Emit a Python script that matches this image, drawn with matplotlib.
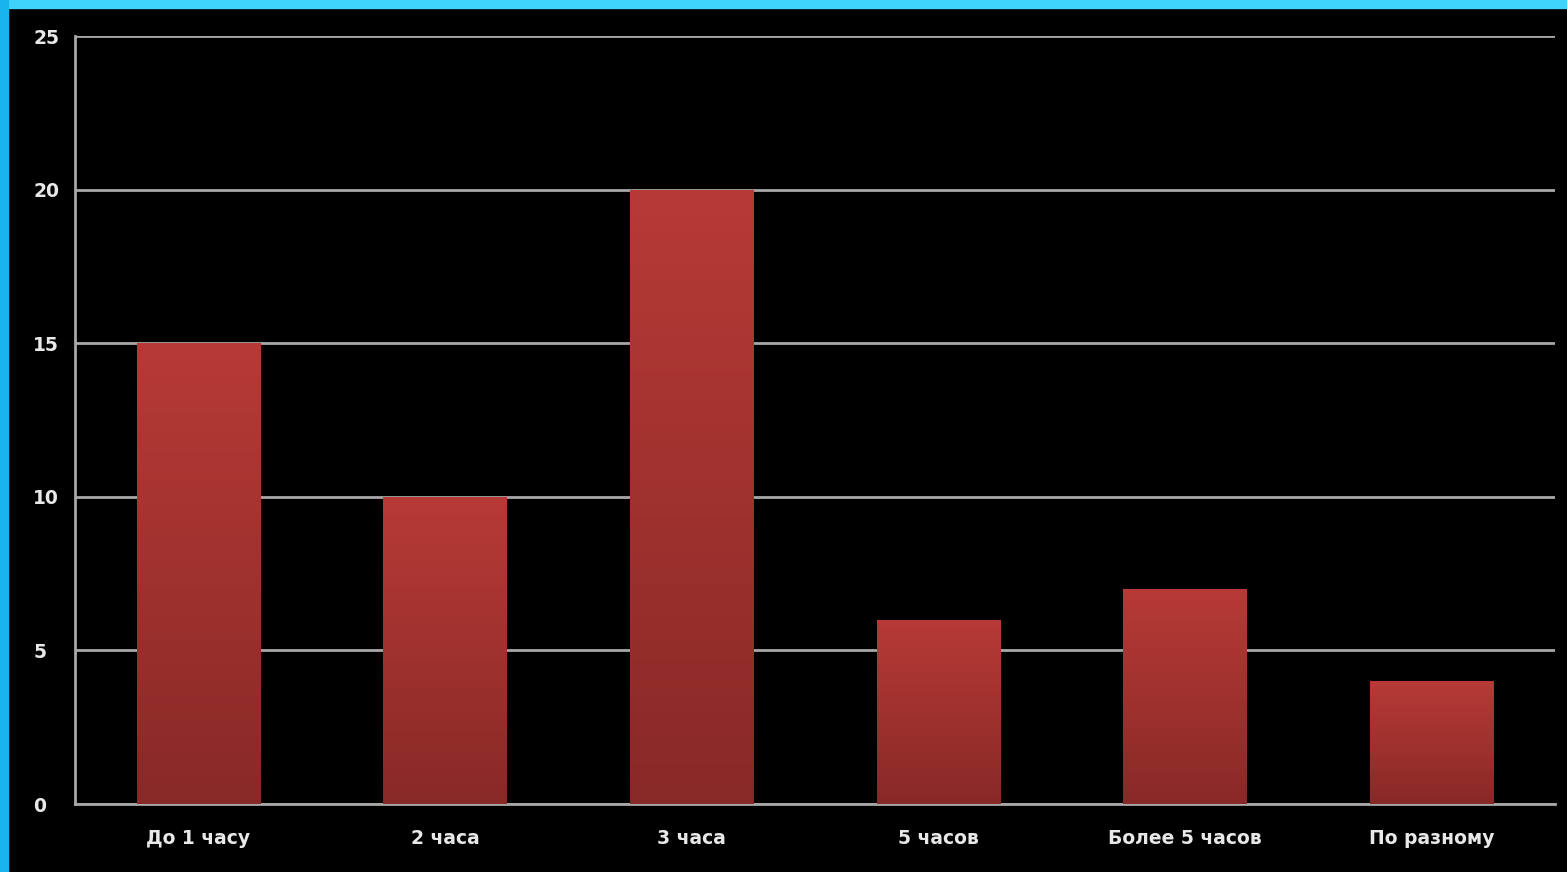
import numpy as np
import matplotlib.pyplot as plt
from matplotlib.patches import Rectangle
from matplotlib.colors import LinearSegmentedColormap

categories = ['До 1 часу', '2 часа', '3 часа', '5 часов', 'Более 5 часов', 'По разному']
values = [15, 10, 20, 6, 7, 4]
yticks = [0, 5, 10, 15, 20, 25]

W, H = 1567, 872
fig = plt.figure(figsize=(W / 100, H / 100), dpi=100)
fig.patch.set_facecolor('black')

# cyan frame on top and left
fig.add_artist(Rectangle((0, 1 - 8 / H), 1, 8 / H, transform=fig.transFigure,
                         color='#3fd2fb', zorder=0))
fig.add_artist(Rectangle((0, 0), 8 / W, 1, transform=fig.transFigure,
                         color='#18b4ee', zorder=0))

ax = fig.add_axes([75 / W, 68 / H, 1480 / W, (804 - 36) / H])
ax.set_facecolor('black')

x = np.arange(len(categories))
bars = ax.bar(x, values, width=0.5, color='none', edgecolor='none', zorder=3)

# vertical red gradient in each bar
grad_cmap = LinearSegmentedColormap.from_list('redgrad', ['#882927', '#b73a36'])
grad = np.linspace(0, 1, 256).reshape(-1, 1)
for b in bars:
    x0, w, h = b.get_x(), b.get_width(), b.get_height()
    im = ax.imshow(grad, cmap=grad_cmap, origin='lower', aspect='auto',
                   extent=[x0, x0 + w, 0, h], zorder=3)
    im.set_clip_path(b)

ax.set_xlim(-0.5, len(categories) - 0.5)
ax.set_ylim(0, 25)
ax.set_yticks(yticks)
ax.set_xticks(x)
ax.set_xticklabels(categories)

ax.grid(axis='y', color='#a8a8a8', linewidth=2, zorder=1)
ax.set_axisbelow(True)
for s in ['top', 'right']:
    ax.spines[s].set_visible(False)
for s in ['left', 'bottom']:
    ax.spines[s].set_color('#a8a8a8')
    ax.spines[s].set_linewidth(2)

ax.tick_params(length=0, colors='white', labelsize=13.5)
ax.tick_params(axis='x', pad=18)
ax.tick_params(axis='y', pad=30)
for lbl in ax.get_xticklabels() + ax.get_yticklabels():
    lbl.set_fontweight('bold')
    lbl.set_color('#e8e8e8')
for lbl in ax.get_yticklabels():
    lbl.set_horizontalalignment('left')

fig.savefig('out.png', dpi=100, facecolor=fig.get_facecolor())
